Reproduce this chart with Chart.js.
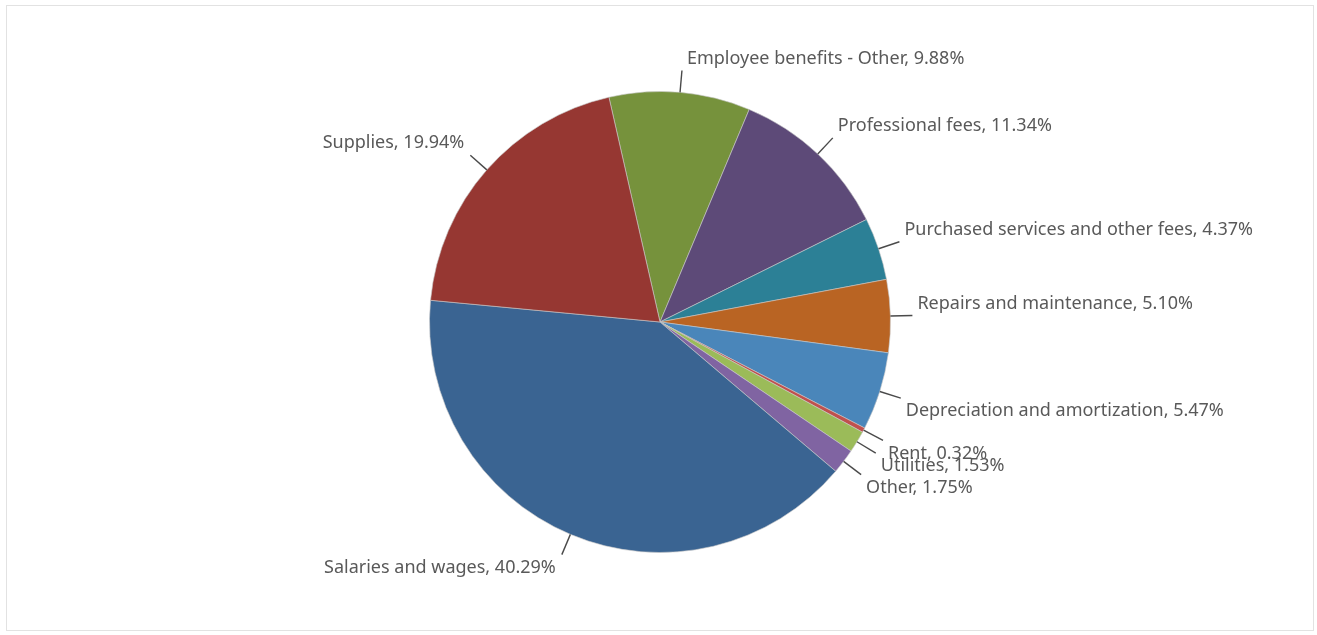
<!DOCTYPE html>
<html>
<head>
<meta charset="utf-8">
<script src="https://cdn.jsdelivr.net/npm/chart.js@4"></script>
<style>
  body{ margin:0; background:#fff; }
  #wrap{ position:relative; width:1317px; height:635px; }
  #frame{ position:absolute; left:6px; top:5px; width:1306px; height:624px; border:1px solid #e2e2e2; }
  canvas{ position:absolute; left:0; top:0; }
</style>
</head>
<body>
<div id="wrap">
  <div id="frame"></div>
  <canvas id="pie" width="1317" height="635"></canvas>
</div>
<script>
// data (clockwise, starting with Employee benefits)
const categories = [
  "Employee benefits - Other",
  "Professional fees",
  "Purchased services and other fees",
  "Repairs and maintenance",
  "Depreciation and amortization",
  "Rent",
  "Utilities",
  "Other",
  "Salaries and wages",
  "Supplies"
];
const shares = [9.88, 11.34, 4.37, 5.10, 5.47, 0.32, 1.53, 1.75, 40.29, 19.94];
const colors = [
  "#76923c", "#5d4a78", "#2c8096", "#b96423", "#4a86ba",
  "#c0504d", "#9bbb59", "#8064a2", "#3a6492", "#963732"
];

// leader lines + labels
const pieLabels = {
  id:"pieLabels",
  afterDatasetsDraw(chart){
    const ctx = chart.ctx;
    const arcs = chart.getDatasetMeta(0).data;
    ctx.save();
    ctx.font = "18px 'Noto Sans'";
    ctx.textBaseline = "middle";
    arcs.forEach((arc, i) => {
      const mid = (arc.startAngle + arc.endAngle) / 2;
      const c = Math.cos(mid), s = Math.sin(mid);
      const r = arc.outerRadius;
      const x1 = arc.x + r * c, y1 = arc.y + r * s;
      const x2 = arc.x + (r + 22) * c, y2 = arc.y + (r + 22) * s;
      ctx.strokeStyle = "#4a4a4a";
      ctx.lineWidth = 1.4;
      ctx.beginPath();
      ctx.moveTo(x1, y1);
      ctx.lineTo(x2, y2);
      ctx.stroke();

      const right = c >= 0;
      const tx = right ? x2 + 5 : x2 - 6;
      const ty = s < 0 ? y2 - 12 : y2 + 13;
      ctx.textAlign = right ? "left" : "right";
      ctx.fillStyle = "#595959";
      ctx.fillText(`${categories[i]}, ${shares[i].toFixed(2)}%`, tx, ty);
    });
    ctx.restore();
  }
};

new Chart(document.getElementById("pie"), {
  type:"pie",
  data:{
    labels:categories,
    datasets:[{
      data:shares,
      backgroundColor:colors,
      borderColor:"rgba(200,200,200,0.6)",
      borderWidth:1
    }]
  },
  options:{
    responsive:false,
    animation:false,
    rotation:-12.8,
    layout:{ padding:{ left:429, right:426, top:91, bottom:82 } },
    plugins:{ legend:{ display:false }, tooltip:{ enabled:false } }
  },
  plugins:[pieLabels]
});
</script>
</body>
</html>
